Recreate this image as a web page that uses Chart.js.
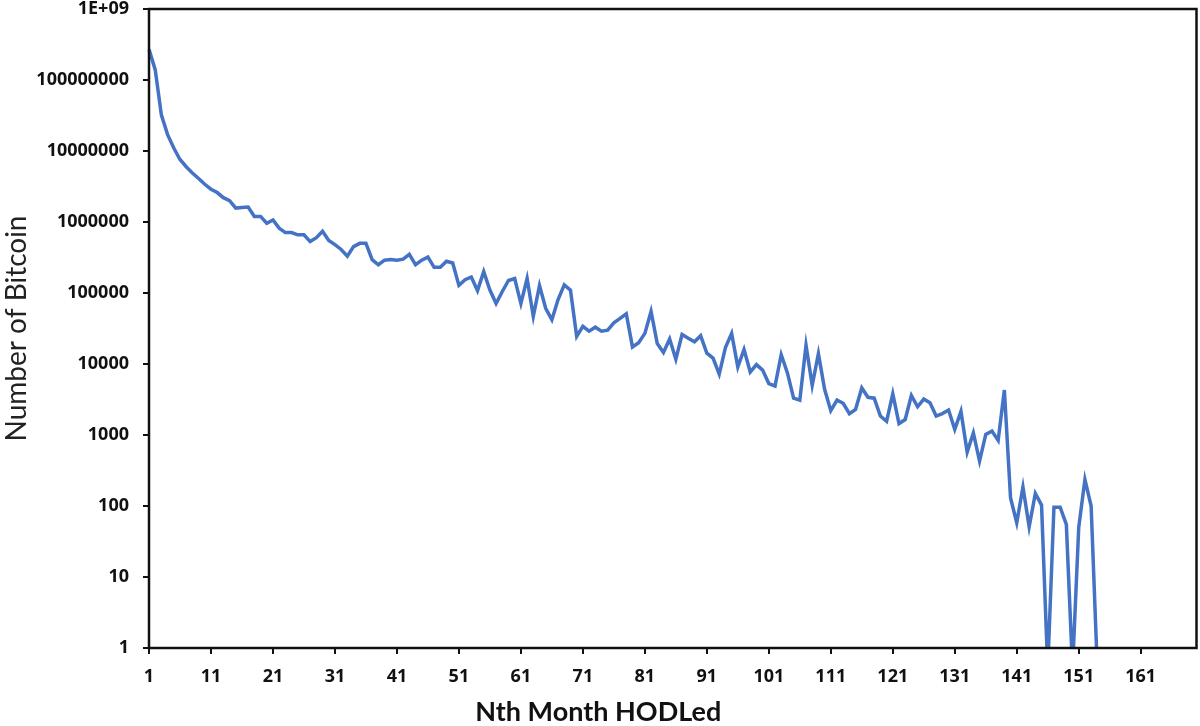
<!DOCTYPE html>
<html>
<head>
<meta charset="utf-8">
<script src="https://cdn.jsdelivr.net/npm/chart.js@4.4.1/dist/chart.umd.min.js"></script>
<style>
  html, body { margin: 0; padding: 0; background: #fff; }
  #wrap { width: 1200px; height: 726px; }
</style>
</head>
<body>
<div id="wrap"><canvas id="hodlChart" width="1200" height="726"></canvas></div>
<script>
// months 1..170 on the category axis, data only runs to month 154
const months = [];
for (let i = 1; i <= 170; i++) months.push(String(i));

// number of bitcoin per month held (0.5 = "zero" month)
const coins = [
  2.7e8, 1.4e8, 3.2e7, 1.7e7, 1.1e7, 7.6e6, 6.0e6, 4.9e6, 4.1e6, 3.4e6,
  2.9e6, 2.6e6, 2.2e6, 2.0e6, 1.57e6, 1.6e6, 1.62e6, 1.2e6, 1.2e6, 9.6e5,
  1.07e6, 8.2e5, 7.1e5, 7.1e5, 6.6e5, 6.6e5, 5.3e5, 6.0e5, 7.4e5, 5.5e5,
  4.8e5, 4.1e5, 3.3e5, 4.5e5, 5.0e5, 5.0e5, 2.95e5, 2.5e5, 2.9e5, 2.97e5,
  2.9e5, 3.0e5, 3.5e5, 2.5e5, 2.9e5, 3.2e5, 2.3e5, 2.3e5, 2.8e5, 2.65e5,
  1.28e5, 1.54e5, 1.68e5, 1.08e5, 2.0e5, 1.1e5, 7.1e4, 1.05e5, 1.5e5, 1.6e5,
  7.1e4, 1.6e5, 4.7e4, 1.27e5, 6.1e4, 4.2e4, 8.1e4, 1.3e5, 1.1e5, 2.45e4,
  3.4e4, 2.9e4, 3.3e4, 2.9e4, 3.0e4, 3.8e4, 4.4e4, 5.1e4, 1.74e4, 2.0e4,
  2.7e4, 5.5e4, 1.94e4, 1.45e4, 2.25e4, 1.17e4, 2.6e4, 2.3e4, 2.05e4, 2.5e4,
  1.42e4, 1.21e4, 7.2e3, 1.7e4, 2.7e4, 9.1e3, 1.6e4, 7.7e3, 9.8e3, 8.2e3,
  5.3e3, 4.9e3, 1.35e4, 7.5e3, 3.3e3, 3.1e3, 1.84e4, 5.0e3, 1.4e4, 4.4e3,
  2.2e3, 3.1e3, 2.8e3, 2.0e3, 2.3e3, 4.6e3, 3.4e3, 3.3e3, 1.85e3, 1.56e3,
  3.8e3, 1.45e3, 1.65e3, 3.6e3, 2.5e3, 3.2e3, 2.85e3, 1.85e3, 2.0e3, 2.25e3,
  1.2e3, 2.15e3, 575, 1.07e3, 430, 1.02e3, 1.14e3, 840, 4.3e3, 130,
  58, 185, 51, 150, 103, 0.5, 96, 96, 55, 0.5,
  50, 236, 100, 0.5
];

// y axis ticks, one per decade
const yTicks = [1, 10, 100, 1000, 10000, 100000, 1000000, 10000000, 100000000, 1000000000];

const frame = {
  id: 'frame',
  afterDatasetsDraw(chart) {
    const a = chart.chartArea;
    const ctx = chart.ctx;
    ctx.save();
    ctx.strokeStyle = '#111';
    ctx.lineWidth = 2.5;
    ctx.strokeRect(a.left, a.top, a.right - a.left, a.bottom - a.top);
    ctx.restore();
  }
};

const tickFont = { family: 'Open Sans', size: 18, weight: 'bold' };

let hodlChart = new Chart(document.getElementById('hodlChart'), {
  type: 'line',
  data: {
    labels: months,
    datasets: [{
      label: 'Number of Bitcoin',
      data: coins,
      borderColor: '#4472C4',
      backgroundColor: '#4472C4',
      borderWidth: 3.5,
      pointRadius: 0,
      tension: 0,
      fill: false
    }]
  },
  options: {
    responsive: false,
    animation: false,
    layout: { padding: { top: 9, right: 3.5, left: 0, bottom: 0 } },
    plugins: {
      legend: { display: false },
      tooltip: { enabled: false },
      title: {
        display: true,
        position: 'bottom',
        text: 'Nth Month HODLed',
        color: '#111',
        font: { family: 'Lato', size: 27, weight: 'bold', lineHeight: 1 },
        padding: { top: 3, bottom: 0 }
      }
    },
    scales: {
      x: {
        type: 'category',
        offset: false,
        border: { display: false },
        grid: {
          drawOnChartArea: false,
          drawTicks: true,
          tickLength: 6,
          lineWidth: 2,
          color: (c) => (c.index % 10 === 0 ? '#111' : 'rgba(0,0,0,0)')
        },
        ticks: {
          autoSkip: false,
          maxRotation: 0,
          padding: 12,
          color: '#111',
          font: tickFont,
          callback: function(v, i) { return i % 10 === 0 ? this.getLabelForValue(v) : ''; }
        },
        afterFit: (s) => { s.height = 48; s.paddingLeft = 0; s.paddingRight = 0; }
      },
      y: {
        type: 'logarithmic',
        min: 1,
        max: 1e9,
        border: { display: false },
        grid: {
          drawOnChartArea: false,
          drawTicks: true,
          tickLength: 6,
          lineWidth: 2,
          color: '#111'
        },
        afterBuildTicks: (s) => { s.ticks = yTicks.map(v => ({ value: v })); },
        ticks: {
          padding: 14,
          color: '#111',
          font: tickFont,
          callback: (v) => (v === 1e9 ? '1E+09' : String(v))
        },
        title: {
          display: true,
          text: 'Number of Bitcoin',
          color: '#222',
          font: { family: 'Lato', size: 28, weight: 'normal' },
          padding: { top: 0, bottom: 0 }
        },
        afterFit: (s) => { s.width = 149; s.paddingTop = 0; s.paddingBottom = 0; }
      }
    }
  },
  plugins: [frame]
});
</script>
</body>
</html>
